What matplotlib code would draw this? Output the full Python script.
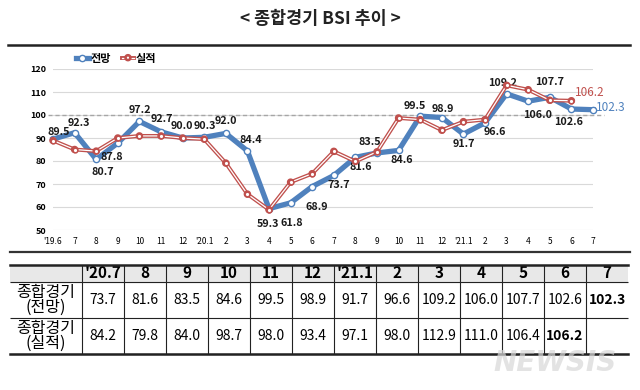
import numpy as np
import matplotlib
matplotlib.use('Agg')
import matplotlib.pyplot as plt
import matplotlib.patheffects as pe

plt.rcParams['font.family'] = ['Noto Sans CJK KR', 'DejaVu Sans']

months = ["'19.6", '7', '8', '9', '10', '11', '12', "'20.1", '2', '3', '4', '5', '6',
          '7', '8', '9', '10', '11', '12', "'21.1", '2', '3', '4', '5', '6', '7']
outlook = [89.5, 92.3, 80.7, 87.8, 97.2, 92.7, 90.0, 90.3, 92.0, 84.4, 59.3, 61.8, 68.9,
           73.7, 81.6, 83.5, 84.6, 99.5, 98.9, 91.7, 96.6, 109.2, 106.0, 107.7, 102.6, 102.3]
actual = [88.9, 85.0, 84.3, 90.0, 90.9, 90.9, 90.0, 89.5, 79.1, 65.6, 58.8, 70.8, 74.5,
          84.2, 79.8, 84.0, 98.7, 98.0, 93.4, 97.1, 98.0, 112.9, 111.0, 106.4, 106.2]

# label offsets in pixels for the outlook values
label_off = [(6, 7), (4, 10), (7, -13), (-6, -14), (0, 11), (1, 13), (-1, 12), (1, 11),
             (0, 12), (3, 11), (-1, -15), (1, -20), (5, -20), (5, -10), (5, -10), (-7, 11),
             (3, -10), (-5, 10), (1, 9), (0, -10), (10, -9), (-4, 11), (9, -14), (0, 15),
             (-3, -13)]

tbl_cols = ["'20.7", '8', '9', '10', '11', '12', "'21.1", '2', '3', '4', '5', '6', '7']
tbl_rows = ['종합경기\n(전망)', '종합경기\n(실적)']
tbl_outlook = ['73.7', '81.6', '83.5', '84.6', '99.5', '98.9', '91.7', '96.6', '109.2',
               '106.0', '107.7', '102.6', '102.3']
tbl_actual = ['84.2', '79.8', '84.0', '98.7', '98.0', '93.4', '97.1', '98.0', '112.9',
              '111.0', '106.4', '106.2', '']

blue = '#4f81bd'
red = '#c0504d'
W, H = 640, 390

fig = plt.figure(figsize=(6.4, 3.9), dpi=100)

fig.text(0.5, 1 - 19 / H, '< 종합경기 BSI 추이 >', ha='center', va='center',
         fontsize=12.5, fontweight='bold', color='#222222')
fig.add_artist(plt.Line2D([8 / W, 630 / W], [1 - 45 / H, 1 - 45 / H], color='#222222', lw=1.8))
fig.add_artist(plt.Line2D([10 / W, 630 / W], [1 - 252 / H, 1 - 252 / H], color='#333333', lw=1.6))

ax = fig.add_axes([53 / W, 1 - 230 / H, 540 / W, 161 / H])
x = np.arange(len(months))
ax.set_xlim(0, len(months) - 1)
ax.set_ylim(50, 120)
ax.set_yticks(range(50, 121, 10))
ax.set_xticks(x)
ax.set_xticklabels(months, fontsize=6)
ax.tick_params(axis='y', labelsize=6.5, length=0, pad=5)
ax.tick_params(axis='x', length=0, pad=5)
for lab in ax.get_yticklabels():
    lab.set_fontweight('bold')
for s in ax.spines.values():
    s.set_visible(False)
ax.grid(axis='y', color='#d9d9d9', lw=0.8)
ax.set_axisbelow(True)
ax.axhline(100, xmin=-0.01, xmax=1.02, color='#a6a6a6', lw=1.0, ls=(0, (3, 2)), clip_on=False)

ax.plot(x, outlook, color=blue, lw=3.8, marker='o', ms=4.5, mfc='white', mec=blue, mew=1.0,
        label='전망', clip_on=False, zorder=3)
xa = x[:len(actual)]
ax.plot(xa, actual, color='white', lw=0.9, marker='o', ms=2.6, mfc='white',
        mec=red, mew=1.0, label='실적', clip_on=False, zorder=4,
        path_effects=[pe.Stroke(linewidth=2.8, foreground=red), pe.Normal()])
ax.plot(xa, actual, ls='none', marker='o', ms=3.4, mfc='white', mec=red, mew=1.1,
        clip_on=False, zorder=5)

for i, (v, off) in enumerate(zip(outlook[:-1], label_off)):
    ax.annotate(f'{v:.1f}', (x[i], v), xytext=off, textcoords='offset pixels',
                ha='center', va='center', fontsize=7.8, fontweight='bold', color='#1a1a1a')
ax.annotate(f'{outlook[-1]:.1f}', (x[-1], outlook[-1]), xytext=(3, 2), textcoords='offset pixels',
            ha='left', va='center', fontsize=8.5, color=blue)
ax.annotate(f'{actual[-1]:.1f}', (xa[-1], actual[-1]), xytext=(4, 8),
            textcoords='offset pixels', ha='left', va='center', fontsize=8.5, color=red)

ax.legend(loc='lower left', bbox_to_anchor=(0.035, 1.0), ncol=2, frameon=False,
          handlelength=1.1, handletextpad=0.15, columnspacing=1.0,
          borderaxespad=0, prop={'weight': 'bold', 'size': 8})

# table
tax = fig.add_axes([10 / W, 1 - 354 / H, 618 / W, 89 / H])
tax.set_xlim(0, 1)
tax.set_ylim(0, 1)
tax.axis('off')
heights = [17, 36, 36]
tax.axhspan(1 - heights[0] / sum(heights), 1, color='#e8e8e8', zorder=-2)
cells = [[''] + tbl_cols, [tbl_rows[0]] + tbl_outlook, [tbl_rows[1]] + tbl_actual]
colw = [72] + [42] * len(tbl_cols)
tb = tax.table(cellText=cells, colWidths=[c / sum(colw) for c in colw],
               bbox=[0, 0, 1, 1], cellLoc='center')
tb.auto_set_font_size(False)
ncol = len(colw)
for (r, c), cell in tb.get_celld().items():
    cell.set_height(heights[r])
    cell.set_linewidth(0.8)
    cell.set_edgecolor('#222222')
    cell.set_facecolor('none')
    cell.set_fill(False)
    edges = 'B'
    if c < ncol - 1:
        edges += 'R'
    cell.visible_edges = edges
    t = cell.get_text()
    if r == 0:
        t.set_fontsize(11)
        t.set_fontweight('bold')
    elif c == 0:
        t.set_fontsize(11.5)
        t.set_linespacing(0.85)
    else:
        t.set_fontsize(10)
        if c == ncol - 1 or (r == 2 and c == ncol - 2):
            t.set_fontweight('bold')
tax.axhline(1, color='#222222', lw=1.8, clip_on=False)
tax.axhline(0, color='#222222', lw=1.8, clip_on=False)

fig.text(555 / W, 1 - 363 / H, 'NEWSIS', ha='center', va='center', fontsize=20,
         fontweight='bold', style='italic', color='#d8d8d8', alpha=0.7, family='DejaVu Sans')

fig.savefig('out.png', dpi=100)
